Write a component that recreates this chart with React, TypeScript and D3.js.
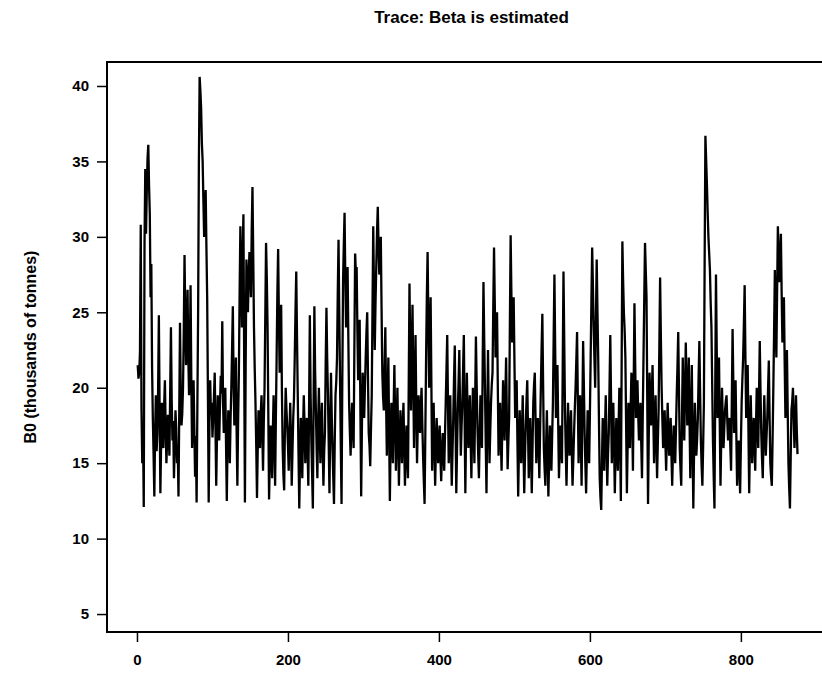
import React, { useEffect, useRef } from 'react';
import * as d3 from 'd3';

const title = 'Trace: Beta is estimated';
const yLabel = 'B0 (thousands of tonnes)';
const xTicks = [0, 200, 400, 600, 800];
const yTicks = [5, 10, 15, 20, 25, 30, 35, 40];
const firstIter = 1; // one value per iteration

// B0 trace, one block per 100 iterations
const trace000 = [
  21.5, 20.6, 21.0, 22.4, 30.8, 18.5, 15.0, 17.2, 12.1, 29.5,
  34.5, 30.2, 33.0, 35.2, 36.1, 33.4, 31.5, 26.0, 28.2, 21.4,
  18.0, 15.6, 12.8, 16.9, 19.5, 15.8, 17.0, 19.8, 24.8, 18.6,
  13.0, 16.4, 19.0, 17.1, 16.0, 18.8, 20.5, 17.4, 15.0, 16.6,
  18.2, 16.9, 15.5, 19.7, 24.0, 19.2, 16.5, 17.8, 14.0, 16.2,
  18.5, 17.3, 15.0, 16.1, 12.8, 18.4, 24.3, 19.9, 17.5, 18.3,
  20.0, 23.7, 28.8, 24.6, 21.5, 23.9, 26.5, 22.1, 19.5, 21.8,
  26.8, 20.4, 16.0, 18.1, 20.5, 17.2, 14.1, 16.8, 12.4, 18.7,
  25.0, 34.8, 40.6, 39.7, 38.5, 36.2, 35.0, 32.4, 30.0, 31.2,
  33.1, 29.3, 26.0, 19.5, 12.4, 17.6, 20.5, 18.2, 19.0, 16.7,
];
const trace100 = [
  18.0, 19.4, 21.0, 17.3, 13.5, 16.8, 19.5, 18.1, 16.5, 18.9,
  20.8, 19.6, 24.4, 19.1, 17.0, 18.4, 20.0, 16.2, 12.5, 16.3,
  18.5, 17.7, 15.0, 17.9, 20.0, 22.6, 25.4, 20.3, 17.5, 19.2,
  22.0, 17.1, 13.5, 17.8, 21.0, 26.4, 30.7, 27.2, 24.0, 28.6,
  31.5, 22.0, 12.4, 21.5, 28.5, 27.1, 25.0, 27.4, 29.0, 28.1,
  26.0, 30.4, 33.3, 28.8, 24.0, 21.2, 19.0, 16.1, 12.7, 16.0,
  18.5, 17.2, 16.0, 18.3, 19.5, 17.1, 14.5, 17.7, 20.0, 24.8,
  29.6, 27.3, 24.0, 18.2, 12.6, 15.4, 17.5, 15.9, 14.0, 17.1,
  19.5, 16.4, 13.5, 18.0, 22.0, 26.3, 29.2, 24.7, 21.0, 23.9,
  25.5, 19.8, 16.0, 14.2, 13.2, 17.4, 20.0, 18.6, 17.5, 16.2,
];
const trace200 = [
  14.5, 16.9, 19.0, 16.7, 13.5, 15.8, 18.0, 19.3, 22.0, 25.1,
  27.7, 23.4, 19.5, 15.6, 12.0, 15.3, 18.0, 16.6, 14.0, 17.2,
  19.5, 17.4, 15.0, 16.8, 18.0, 15.9, 13.5, 18.7, 24.8, 19.6,
  16.5, 14.3, 12.0, 19.2, 25.4, 21.1, 18.5, 16.0, 14.0, 17.6,
  20.0, 17.2, 15.0, 17.4, 19.0, 16.1, 13.5, 15.8, 17.0, 21.6,
  25.3, 21.9, 19.5, 16.3, 13.0, 17.4, 21.0, 18.2, 16.0, 14.1,
  12.3, 16.5, 19.5, 20.4, 22.0, 26.3, 29.8, 24.9, 20.5, 16.1,
  12.3, 20.4, 27.0, 29.5, 31.6, 27.2, 24.0, 26.1, 28.0, 23.3,
  19.0, 17.1, 15.5, 17.6, 19.0, 17.4, 16.0, 22.7, 28.9, 27.6,
  28.0, 23.8, 20.5, 22.9, 24.5, 18.3, 12.8, 17.4, 21.0, 19.7,
];
const trace300 = [
  18.0, 20.1, 22.0, 23.7, 25.0, 20.8, 17.0, 16.2, 14.8, 17.3,
  19.5, 25.2, 30.7, 26.4, 22.5, 25.6, 28.0, 30.3, 32.0, 29.4,
  27.5, 28.8, 30.0, 25.3, 21.0, 19.4, 18.5, 21.3, 24.0, 19.1,
  15.5, 18.9, 22.0, 17.2, 12.5, 16.4, 19.0, 17.3, 15.0, 18.6,
  21.5, 17.9, 14.5, 17.1, 20.0, 16.6, 13.5, 16.2, 18.5, 16.9,
  15.0, 17.4, 19.0, 16.1, 13.5, 15.7, 17.5, 15.6, 14.0, 20.2,
  26.9, 22.4, 18.5, 22.3, 25.5, 20.6, 16.0, 19.8, 23.5, 18.7,
  15.0, 17.6, 19.5, 18.1, 17.0, 18.8, 20.0, 17.6, 15.5, 13.8,
  12.3, 17.0, 22.0, 26.1, 29.0, 24.2, 20.0, 23.4, 26.0, 20.3,
  14.5, 16.9, 19.0, 16.2, 13.5, 15.9, 18.0, 16.4, 15.0, 16.6,
];
const trace400 = [
  17.5, 15.4, 13.8, 15.6, 17.0, 15.9, 14.5, 16.8, 19.0, 21.2,
  23.5, 18.9, 15.0, 17.3, 19.5, 16.2, 13.5, 15.8, 18.0, 20.6,
  22.8, 17.7, 13.0, 15.9, 18.5, 20.3, 22.5, 18.6, 15.5, 17.4,
  19.0, 21.2, 23.5, 18.1, 13.0, 17.3, 21.0, 18.2, 16.0, 17.9,
  19.5, 16.6, 14.0, 17.2, 20.0, 17.4, 15.0, 19.1, 23.4, 20.2,
  17.5, 15.6, 14.0, 16.9, 19.5, 17.6, 16.0, 21.7, 27.0, 23.2,
  20.0, 16.4, 13.0, 17.8, 22.5, 18.6, 15.0, 17.1, 19.0, 20.2,
  21.0, 25.4, 29.3, 25.6, 22.0, 23.8, 25.0, 20.1, 15.5, 17.4,
  19.0, 16.6, 14.5, 17.6, 20.5, 18.3, 16.5, 19.4, 22.0, 18.1,
  14.6, 16.4, 18.0, 24.3, 30.1, 26.2, 23.0, 24.7, 26.0, 21.9,
];
const trace500 = [
  18.0, 19.3, 20.5, 16.4, 12.8, 15.9, 18.5, 16.6, 15.0, 17.2,
  19.5, 16.1, 13.0, 15.4, 17.5, 19.1, 20.5, 17.3, 14.0, 16.2,
  18.0, 15.4, 13.0, 16.1, 19.0, 20.2, 21.0, 17.9, 15.0, 16.6,
  18.0, 16.2, 14.0, 17.1, 20.0, 22.6, 24.9, 20.3, 16.0, 14.6,
  13.5, 16.2, 18.5, 15.5, 12.8, 15.3, 17.5, 16.1, 14.5, 16.8,
  19.0, 23.4, 27.5, 22.6, 18.0, 19.8, 21.5, 17.6, 14.0, 15.9,
  17.5, 16.3, 15.0, 21.4, 27.7, 23.1, 18.5, 15.9, 13.5, 16.3,
  19.0, 17.2, 15.5, 17.1, 18.5, 15.8, 13.5, 15.2, 17.0, 18.6,
  20.0, 21.8, 23.7, 19.2, 15.0, 17.3, 19.5, 16.4, 13.5, 18.4,
  23.1, 20.2, 17.0, 14.9, 13.0, 15.8, 18.5, 16.6, 15.0, 18.3,
];
const trace600 = [
  22.0, 25.8, 29.3, 26.7, 24.0, 21.9, 20.0, 24.6, 28.5, 25.1,
  22.0, 17.8, 14.0, 12.7, 11.9, 15.2, 18.0, 16.1, 14.5, 17.3,
  19.5, 16.4, 13.5, 15.6, 17.0, 20.1, 23.5, 19.3, 15.0, 17.1,
  19.0, 16.2, 13.0, 15.7, 18.0, 16.1, 14.5, 17.4, 20.0, 16.3,
  12.5, 21.2, 29.7, 27.1, 25.0, 23.8, 22.0, 17.4, 13.0, 16.2,
  19.0, 17.3, 16.0, 18.6, 21.0, 17.9, 14.5, 20.1, 25.6, 21.6,
  18.0, 19.4, 20.5, 18.2, 16.5, 17.7, 19.0, 16.3, 14.0, 18.1,
  22.0, 25.9, 29.6, 27.8, 26.0, 19.1, 12.3, 16.8, 21.0, 19.2,
  17.5, 19.6, 21.5, 18.1, 15.0, 17.2, 19.5, 16.6, 14.0, 16.4,
  18.5, 22.8, 27.3, 23.4, 20.0, 17.9, 16.0, 17.3, 18.5, 16.4,
];
const trace700 = [
  14.5, 16.8, 19.0, 17.1, 15.5, 16.9, 18.0, 15.6, 13.5, 15.7,
  17.5, 16.4, 15.0, 17.2, 19.5, 21.4, 23.7, 19.8, 16.0, 14.6,
  13.5, 17.9, 22.0, 19.1, 16.5, 19.7, 23.0, 20.4, 17.5, 19.6,
  22.0, 17.8, 14.0, 17.6, 21.5, 16.4, 12.0, 15.8, 19.0, 17.1,
  15.5, 16.6, 18.0, 20.7, 23.1, 19.6, 16.5, 14.8, 13.5, 16.1,
  19.0, 28.4, 36.7, 35.1, 33.5, 31.6, 30.0, 28.9, 27.8, 25.6,
  24.0, 20.2, 16.5, 14.1, 12.0, 19.6, 27.5, 22.6, 18.0, 19.8,
  22.0, 17.7, 13.5, 16.6, 20.0, 17.9, 16.0, 17.3, 18.5, 19.1,
  19.5, 17.8, 16.5, 17.2, 18.0, 16.1, 14.5, 19.2, 23.9, 20.3,
  17.0, 18.9, 20.5, 16.8, 13.5, 15.1, 16.5, 14.7, 13.0, 16.2,
];
const trace800 = [
  19.0, 20.6, 22.0, 24.3, 26.8, 22.1, 18.0, 19.9, 21.5, 17.2,
  13.0, 16.4, 19.5, 17.1, 15.0, 16.7, 18.0, 16.2, 14.5, 17.4,
  20.0, 17.8, 16.0, 19.4, 23.1, 19.8, 17.0, 15.3, 14.0, 16.9,
  19.5, 17.3, 15.5, 16.8, 18.0, 19.9, 21.8, 18.2, 15.0, 14.1,
  13.5, 16.6, 20.0, 23.7, 27.8, 24.6, 22.0, 26.4, 30.7, 28.6,
  27.0, 28.8, 30.2, 26.3, 23.0, 24.4, 26.0, 21.7, 18.0, 20.1,
  22.5, 18.6, 15.0, 13.3, 12.0, 15.4, 18.5, 19.1, 20.0, 17.9,
  16.0, 17.6, 19.5, 17.3, 15.6,
];

const trace = [
  ...trace000, ...trace100, ...trace200, ...trace300, ...trace400,
  ...trace500, ...trace600, ...trace700, ...trace800,
];

const W = 822;
const H = 679;

export default function App() {
  const ref = useRef<SVGSVGElement>(null);

  useEffect(() => {
    const svg = d3.select(ref.current);
    svg.selectAll('*').remove();

    const x = d3.scaleLinear().domain([-39.7, 926]).range([107, 836]);
    const y = d3.scaleLinear().domain([3.81, 41.59]).range([632, 62]);

    const font = 'Liberation Sans, Arial, sans-serif';

    // frame (right side falls outside the picture)
    svg.append('rect')
      .attr('x', x.range()[0]).attr('y', y.range()[1])
      .attr('width', x.range()[1] - x.range()[0])
      .attr('height', y.range()[0] - y.range()[1])
      .attr('fill', 'none').attr('stroke', '#000').attr('stroke-width', 2);

    const line = d3.line<number>()
      .x((d, i) => x(firstIter + i))
      .y(d => y(d));

    svg.append('path')
      .datum(trace)
      .attr('d', line)
      .attr('fill', 'none')
      .attr('stroke', '#000')
      .attr('stroke-width', 2.3);

    const gx = svg.append('g')
      .attr('transform', `translate(0,${y.range()[0]})`)
      .call(d3.axisBottom(x).tickValues(xTicks).tickSize(10).tickPadding(12));
    const gy = svg.append('g')
      .attr('transform', `translate(${x.range()[0]},0)`)
      .call(d3.axisLeft(y).tickValues(yTicks).tickSize(10).tickPadding(8));

    [gx, gy].forEach(g => {
      g.select('.domain').remove();
      g.selectAll('line').attr('stroke', '#000').attr('stroke-width', 1.5);
      g.selectAll('text')
        .attr('fill', '#000')
        .style('font-family', font)
        .style('font-size', '15px')
        .style('font-weight', 'bold');
    });

    svg.append('text')
      .attr('x', (x.range()[0] + x.range()[1]) / 2)
      .attr('y', 23)
      .attr('text-anchor', 'middle')
      .style('font-family', font)
      .style('font-size', '17px')
      .style('font-weight', 'bold')
      .text(title);

    svg.append('text')
      .attr('transform', `translate(36,${(y.range()[0] + y.range()[1]) / 2}) rotate(-90)`)
      .attr('text-anchor', 'middle')
      .style('font-family', font)
      .style('font-size', '16px')
      .style('font-weight', 'bold')
      .text(yLabel);
  }, []);

  return (
    <svg ref={ref} width={W} height={H}
      style={{ position: 'absolute', left: 0, top: 0, background: '#fff' }} />
  );
}
